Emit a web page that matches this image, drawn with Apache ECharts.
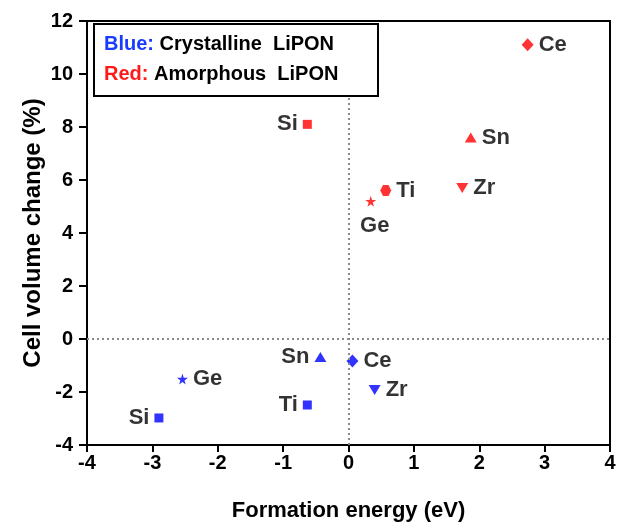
<!DOCTYPE html>
<html>
<head>
<meta charset="utf-8">
<script src="https://cdn.jsdelivr.net/npm/echarts@6/dist/echarts.min.js"></script>
<style>html,body{margin:0;padding:0;background:#fff}#c{width:621px;height:527px}</style>
</head>
<body>
<div id="c"></div>
<script>
// ---- data ----
const elements = ['Ce', 'Si', 'Sn', 'Ti', 'Zr', 'Ge'];
const amorphousX = [2.74, -0.63, 1.87, 0.57, 1.74, 0.34];
const amorphousY = [11.1, 8.1, 7.6, 5.6, 5.7, 5.2];
const crystallineX = [0.06, -2.90, -0.43, -0.63, 0.40, -2.54];
const crystallineY = [-0.83, -2.98, -0.68, -2.49, -1.92, -1.51];
const xTicks = [-4, -3, -2, -1, 0, 1, 2, 3, 4];
const yTicks = [-4, -2, 0, 2, 4, 6, 8, 10, 12];

// ---- styles ----
const HEX = 'path://M25,6.7 L75,6.7 L100,50 L75,93.3 L25,93.3 L0,50 Z';
const STAR = 'path://M50,0 L61,35 L98,35 L68,57 L79,91 L50,70 L21,91 L32,57 L2,35 L39,35 Z';
const amorphousStyle = {
  Ce: {symbol: 'diamond', size: [12, 13], rot: 0, pos: 'right', off: [0, 0]},
  Si: {symbol: 'rect', size: 9, rot: 0, pos: 'left', off: [0, 0]},
  Sn: {symbol: 'triangle', size: [12, 10], rot: 0, pos: 'right', off: [0, 0]},
  Ti: {symbol: HEX, size: 11, rot: 0, pos: 'right', off: [0, 0]},
  Zr: {symbol: 'triangle', size: [12, 10], rot: 180, pos: 'right', off: [0, 0]},
  Ge: {symbol: STAR, size: 11, rot: 0, pos: 'bottom', off: [4, 3]}
};
const crystallineStyle = {
  Ce: {symbol: 'diamond', size: [12, 13], rot: 0, pos: 'right', off: [0, 0]},
  Si: {symbol: 'rect', size: 9, rot: 0, pos: 'left', off: [0, 0]},
  Sn: {symbol: 'triangle', size: [12, 10], rot: 0, pos: 'left', off: [0, 0]},
  Ti: {symbol: 'rect', size: 9, rot: 0, pos: 'left', off: [0, 0]},
  Zr: {symbol: 'triangle', size: [12, 10], rot: 180, pos: 'right', off: [0, 0]},
  Ge: {symbol: STAR, size: 11, rot: 0, pos: 'right', off: [0, 0]}
};
const FONT = '"Liberation Sans", Arial, sans-serif';

function build(xs, ys, styles) {
  return elements.map((name, i) => {
    const s = styles[name];
    return {
      name: name,
      value: [xs[i], ys[i]],
      symbol: s.symbol,
      symbolSize: s.size,
      symbolRotate: s.rot,
      label: {position: s.pos, offset: s.off}
    };
  });
}
const labelCommon = {
  show: true, formatter: '{b}', color: '#000', fontFamily: FONT,
  fontWeight: 'bold', fontSize: 22, distance: 5
};

const chart = echarts.init(document.getElementById('c'), null, {renderer: 'canvas'});
chart.setOption({
  animation: false,
  backgroundColor: '#fff',
  grid: {left: 87, right: 11, top: 21, bottom: 82, show: true, borderColor: '#000', borderWidth: 2, backgroundColor: 'transparent'},
  xAxis: {
    type: 'value', min: -4, max: 4, interval: 1,
    name: 'Formation energy (eV)', nameLocation: 'middle', nameGap: 55, nameMoveOverlap: false,
    nameTextStyle: {fontFamily: FONT, fontWeight: 'bold', fontSize: 22, color: '#000'},
    axisLine: {onZero: false, lineStyle: {color: '#000', width: 2}},
    axisTick: {show: true, length: 7, lineStyle: {color: '#000', width: 2}},
    axisLabel: {fontFamily: FONT, fontWeight: 'bold', fontSize: 20, color: '#000', margin: 8,
      formatter: v => xTicks.includes(v) ? String(v) : ''},
    splitLine: {show: false}
  },
  yAxis: {
    type: 'value', min: -4, max: 12, interval: 2,
    name: 'Cell volume change (%)', nameLocation: 'middle', nameGap: 42, nameMoveOverlap: false,
    nameTextStyle: {fontFamily: FONT, fontWeight: 'bold', fontSize: 24, color: '#000'},
    axisLine: {onZero: false, lineStyle: {color: '#000', width: 2}},
    axisTick: {show: true, length: 8, lineStyle: {color: '#000', width: 2}},
    axisLabel: {fontFamily: FONT, fontWeight: 'bold', fontSize: 20, color: '#000', margin: 14,
      formatter: v => yTicks.includes(v) ? String(v) : ''},
    splitLine: {show: false}
  },
  series: [
    {
      name: 'Amorphous LiPON', type: 'scatter',
      itemStyle: {color: '#ff0000'},
      label: labelCommon,
      data: build(amorphousX, amorphousY, amorphousStyle),
      markLine: {
        silent: true, symbol: 'none', label: {show: false},
        lineStyle: {color: '#8a8a8a', type: [2, 3], width: 2},
        data: [{xAxis: 0}, {yAxis: 0}]
      },
      z: 3
    },
    {
      name: 'Crystalline LiPON', type: 'scatter',
      itemStyle: {color: '#0000ff'},
      label: labelCommon,
      data: build(crystallineX, crystallineY, crystallineStyle),
      z: 3
    }
  ],
  graphic: [
    {
      type: 'rect', left: 93, top: 23, z: 10,
      shape: {width: 284, height: 72},
      style: {fill: '#fff', stroke: '#000', lineWidth: 2}
    },
    {
      type: 'text', left: 104, top: 29, z: 11,
      style: {
        text: '{b|Blue:} {k|Crystalline  LiPON}\n{r|Red:} {k|Amorphous  LiPON}',
        fontFamily: FONT, fontWeight: 'bold', fontSize: 20, lineHeight: 30,
        rich: {
          b: {fill: '#1a3cff', fontFamily: FONT, fontWeight: 'bold', fontSize: 20, lineHeight: 30},
          r: {fill: '#ff1a1a', fontFamily: FONT, fontWeight: 'bold', fontSize: 20, lineHeight: 30},
          k: {fill: '#000', fontFamily: FONT, fontWeight: 'bold', fontSize: 20, lineHeight: 30}
        }
      }
    }
  ]
});
</script>
</body>
</html>
